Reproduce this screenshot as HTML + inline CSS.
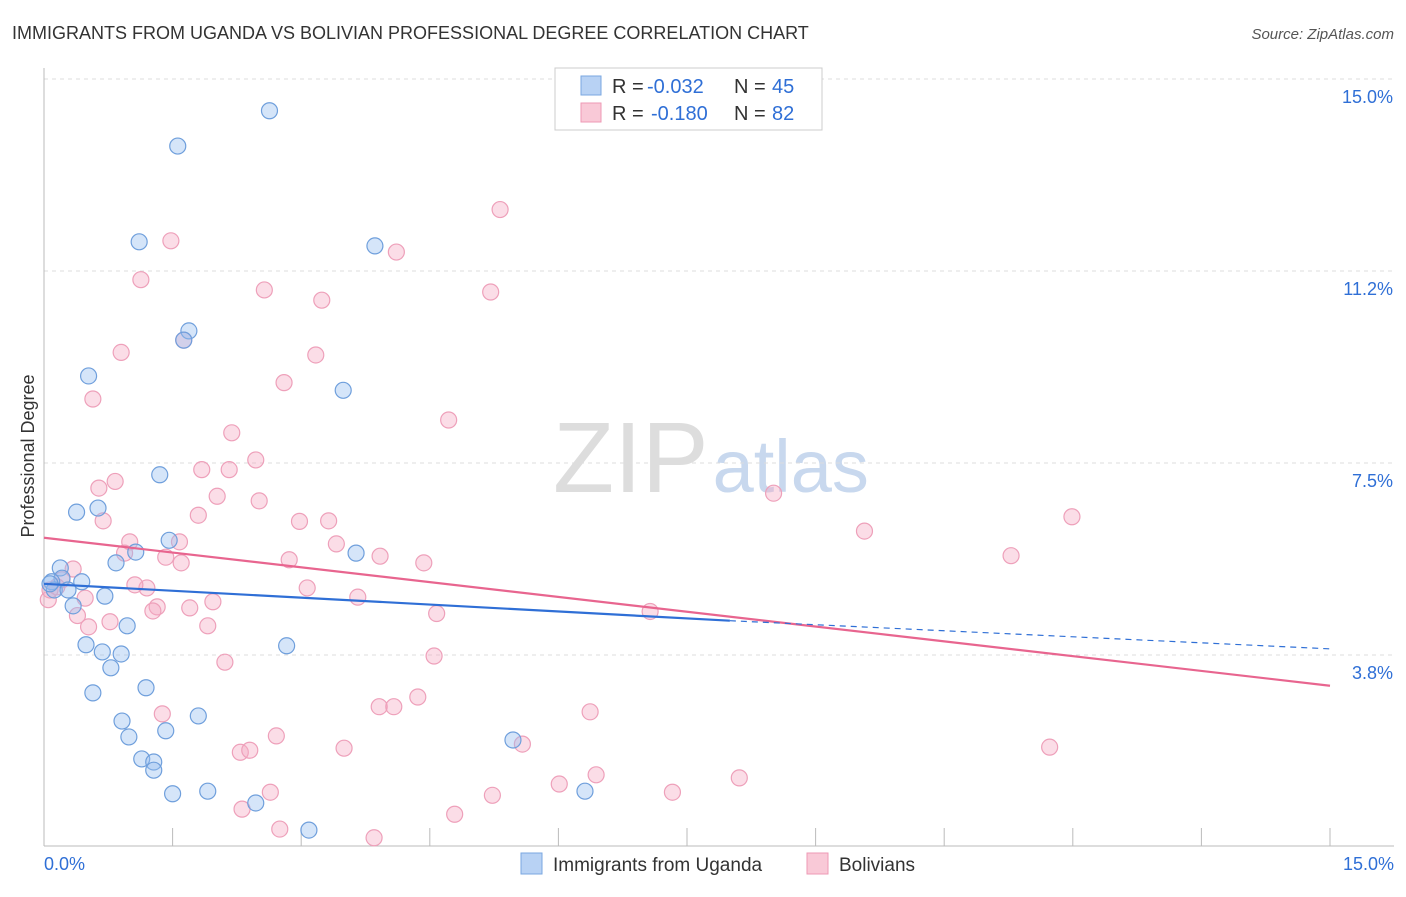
<!DOCTYPE html>
<html><head><meta charset="utf-8"><style>
body{margin:0;background:#fff;font-family:"Liberation Sans",sans-serif;}
svg text{font-family:"Liberation Sans",sans-serif;}
</style></head><body>
<svg id="chart" width="1406" height="892">
<text x="12" y="39" font-size="18" fill="#333">IMMIGRANTS FROM UGANDA VS BOLIVIAN PROFESSIONAL DEGREE CORRELATION CHART</text>
<text x="1394" y="39" font-size="15" fill="#555" font-style="italic" text-anchor="end">Source: ZipAtlas.com</text>
<text x="34" y="456" font-size="18" fill="#333" text-anchor="middle" transform="rotate(-90 34 456)">Professional Degree</text>
<text x="553" y="492" font-size="100" fill="#ddd" font-family="Liberation Serif">ZIP<tspan fill="#c8d8ee" font-family="Liberation Sans" font-size="74" dx="4">atlas</tspan></text>
<g id="grid"></g><g id="pts"></g><g id="lines"></g>
<g>
<rect x="555" y="68" width="267" height="62" fill="#fff" stroke="#ccc"/>
<rect x="581" y="76" width="20" height="19" fill="#b8d2f4" stroke="#7aa7e0"/>
<rect x="581" y="103" width="20" height="19" fill="#f9c9d7" stroke="#ee99b4"/>
<text x="612" y="93" font-size="20" fill="#333">R =</text>
<text x="647" y="93" font-size="20" fill="#2f6fd6">-0.032</text>
<text x="734" y="93" font-size="20" fill="#333">N =</text>
<text x="772" y="93" font-size="20" fill="#2f6fd6">45</text>
<text x="612" y="120" font-size="20" fill="#333">R =</text>
<text x="651" y="120" font-size="20" fill="#2f6fd6">-0.180</text>
<text x="734" y="120" font-size="20" fill="#333">N =</text>
<text x="772" y="120" font-size="20" fill="#2f6fd6">82</text>
</g>
<g>
<rect x="521" y="853" width="21" height="21" fill="#b8d2f4" stroke="#7aa7e0"/>
<text x="553" y="871" font-size="19" fill="#333">Immigrants from Uganda</text>
<rect x="807" y="853" width="21" height="21" fill="#f9c9d7" stroke="#ee99b4"/>
<text x="839" y="871" font-size="19" fill="#333">Bolivians</text>
</g>
</svg>
<script>
const yTicks=[15.0,11.25,7.5,3.75];
const yTickLabels=["15.0%","11.2%","7.5%","3.8%"];
const xTickLabels=["0.0%","15.0%"];
const ugandaX=[2.63,1.56,1.11,3.86,1.69,1.63,0.52,3.49,1.35,0.38,0.63,1.46,1.07,3.64,0.84,0.19,0.21,0.09,0.44,0.12,0.28,0.71,0.34,0.97,0.49,0.68,0.90,2.83,0.78,1.19,0.57,1.80,0.91,1.42,0.99,1.14,1.28,1.28,5.47,1.91,1.50,2.47,3.09,6.31,0.07];
const ugandaY=[14.38,13.69,11.82,11.74,10.08,9.90,9.20,8.92,7.27,6.54,6.62,5.99,5.76,5.74,5.55,5.45,5.25,5.18,5.18,5.02,5.02,4.90,4.71,4.32,3.95,3.81,3.77,3.93,3.50,3.11,3.01,2.56,2.46,2.27,2.15,1.72,1.66,1.50,2.09,1.09,1.04,0.86,0.33,1.09,5.14];
const bolX=[5.32,1.48,4.11,1.13,2.57,3.24,5.21,0.90,3.17,1.63,2.80,0.57,4.72,2.19,2.47,1.84,2.16,0.83,0.64,2.02,8.51,2.51,1.80,0.69,2.98,3.32,9.57,11.99,1.00,1.58,3.41,0.94,1.42,1.60,2.86,3.92,4.43,11.28,0.34,0.21,0.15,1.20,1.06,3.07,0.48,3.66,1.97,1.32,1.27,1.70,0.39,4.58,7.07,0.77,0.52,1.91,4.55,2.11,1.38,3.91,4.08,4.36,6.37,2.71,3.50,5.58,2.29,2.40,11.73,6.44,8.11,6.01,2.64,5.23,7.33,2.31,4.79,2.75,3.85,0.05,0.07];
const bolY=[12.45,11.84,11.62,11.08,10.88,10.68,10.84,9.66,9.61,9.90,9.07,8.75,8.34,8.09,7.56,7.37,7.37,7.14,7.01,6.85,6.91,6.76,6.48,6.37,6.36,6.37,6.17,6.45,5.96,5.96,5.92,5.74,5.66,5.55,5.61,5.68,5.55,5.69,5.43,5.22,5.08,5.06,5.12,5.06,4.86,4.88,4.79,4.69,4.61,4.67,4.52,4.56,4.60,4.40,4.30,4.32,3.73,3.61,2.60,2.74,2.74,2.93,2.64,2.17,1.93,2.01,1.85,1.89,1.95,1.41,1.35,1.23,1.07,1.01,1.07,0.74,0.64,0.35,0.18,4.83,5.02];
const bolTrend=[6.04,3.15];
const ugTrend=[5.14,4.42,3.87];
const NS="http://www.w3.org/2000/svg";
const X=v=>44+v/15*1286, Y=v=>79+(15-v)*51.2;
function mk(t,a,p){const e=document.createElementNS(NS,t);for(const k in a)e.setAttribute(k,a[k]);p.appendChild(e);return e;}
const g=document.getElementById('grid'),svg=document.getElementById('chart');
yTicks.forEach((v,i)=>{
 const l=mk('line',{x1:44,x2:1394,y1:Y(v),y2:Y(v),stroke:'#ddd','stroke-dasharray':'4,4'},g);
 
 
 const t=mk('text',{x:1393,y:Y(v)+24,'font-size':18,fill:'#2f6fd6','text-anchor':'end'},g);t.textContent=yTickLabels[i];
 
 
});
const ax=mk('line',{x1:44,x2:44,y1:68,y2:846,stroke:'#bbb'},g);


const bx=mk('line',{x1:44,x2:1394,y1:846,y2:846,stroke:'#bbb'},g);


for(let i=0;i<=10;i++){const t=mk('line',{x1:X(i*1.5),x2:X(i*1.5),y1:828,y2:846,stroke:'#bbb'},g);
 
 }
[[0,44,'start'],[15,1394,'end']].forEach((d,i)=>{const t=mk('text',{x:d[1],y:870,'font-size':18,fill:'#2f6fd6','text-anchor':d[2]},g);t.textContent=xTickLabels[i];
 
 });
const p=document.getElementById('pts');
bolX.forEach((v,i)=>{const c=mk('circle',{cx:X(v),cy:Y(bolY[i]),r:8,fill:'rgba(246,170,195,0.4)',stroke:'#eea0ba','stroke-width':1.2},p);
 
 });
ugandaX.forEach((v,i)=>{const c=mk('circle',{cx:X(v),cy:Y(ugandaY[i]),r:8,fill:'rgba(150,190,240,0.4)',stroke:'#6f9fdc','stroke-width':1.2},p);
 
 });
const L=document.getElementById('lines');
const bl=mk('line',{x1:X(0),y1:Y(bolTrend[0]),x2:X(15),y2:Y(bolTrend[1]),stroke:'#e8658f','stroke-width':2.2},L);


const ul=mk('line',{x1:X(0),y1:Y(ugTrend[0]),x2:X(8),y2:Y(ugTrend[1]),stroke:'#2f6fd6','stroke-width':2.2},L);


const ud=mk('line',{x1:X(8),y1:Y(ugTrend[1]),x2:X(15),y2:Y(ugTrend[2]),stroke:'#2f6fd6','stroke-width':1.2,'stroke-dasharray':'6,5'},L);


</script>
</body></html>
